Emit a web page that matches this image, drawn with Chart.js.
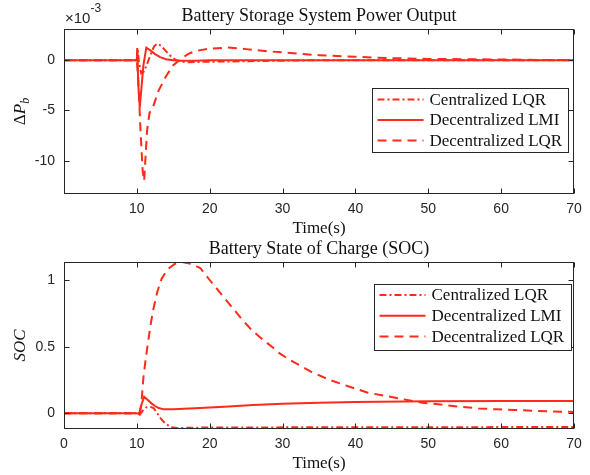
<!DOCTYPE html>
<html>
<head>
<meta charset="utf-8">
<script src="https://cdn.jsdelivr.net/npm/chart.js@4.4.1/dist/chart.umd.min.js"></script>
<style>
  html, body { margin: 0; padding: 0; background: #fff; }
  #wrap { position: relative; width: 590px; height: 475px; }
  canvas { position: absolute; left: 0; }
  #powerChart { top: 0; }
  #socChart { top: 240px; }
</style>
</head>
<body>
<div id="wrap">
  <canvas id="powerChart" width="590" height="240"></canvas>
  <canvas id="socChart" width="590" height="235"></canvas>
</div>
<script>
const seriesNames = ["Centralized LQR", "Decentralized LMI", "Decentralized LQR"];

const timeTicks = [0, 10, 20, 30, 40, 50, 60, 70];
const powerTicks = [-10, -5, 0];
const socTicks = [0, 0.5, 1];

// battery power output, in units of 1e-3
const tPowCentral = [0, 10, 10.1, 10.3, 10.6, 11.0, 11.5, 12.0, 12.4, 12.8, 13.3, 13.8, 14.3, 14.8, 15.4, 16.0, 17.0, 20.0, 25.0, 30.0, 35.0, 70];
const pPowCentral = [0, 0, 1.1, -0.3, -1.3, -1.1, -0.2, 0.8, 1.4, 1.65, 1.45, 1.05, 0.65, 0.3, 0.0, -0.15, -0.2, -0.15, -0.1, -0.05, 0, 0];

const tPowLmi = [0, 10, 10.05, 10.2, 10.4, 10.6, 10.9, 11.3, 11.8, 12.5, 13.2, 14.0, 15.0, 16.0, 18.0, 20.0, 70];
const pPowLmi = [0, 0, 1.2, -2.5, -4.7, -3.0, -0.5, 1.25, 1.0, 0.6, 0.3, 0.1, 0.0, -0.05, -0.05, 0, 0];

const tPowDec = [0, 10, 10.2, 10.5, 10.8, 11.0, 11.4, 11.75, 12.1, 13.0, 14, 15, 16, 17, 18, 20, 22.5, 25, 27.5, 30, 32.5, 35, 37.5, 40, 42.5, 45, 50, 55, 60, 65, 70];
const pPowDec = [0, 0, -2, -7, -11, -12, -7, -5.2, -4.9, -3, -1.6, -0.5, 0.1, 0.6, 0.9, 1.15, 1.25, 1.1, 0.92, 0.77, 0.62, 0.5, 0.42, 0.34, 0.26, 0.2, 0.13, 0.1, 0.07, 0.03, 0.01];

// battery state of charge
const tSocCentral = [0, 10, 10.4, 10.8, 11.3, 11.8, 12.3, 12.8, 13.3, 13.8, 14.3, 14.8, 15.5, 17, 20, 30, 40, 50, 60, 70];
const socCentral = [0, 0, -0.01, 0.02, 0.045, 0.05, 0.04, 0.0, -0.04, -0.07, -0.09, -0.105, -0.11, -0.108, -0.106, -0.105, -0.104, -0.104, -0.103, -0.103];

const tSocLmi = [0, 10, 10.3, 10.6, 11, 11.5, 12, 12.5, 13, 13.7, 15, 18, 22, 26, 30, 35, 40, 50, 60, 70];
const socLmi = [0, 0, -0.005, 0.06, 0.125, 0.1, 0.075, 0.055, 0.04, 0.03, 0.03, 0.038, 0.05, 0.062, 0.072, 0.08, 0.085, 0.09, 0.092, 0.092];

const tSocDec = [0, 10.4, 10.6, 10.9, 11.2, 11.5, 11.9, 12.3, 12.8, 13.4, 14.2, 15.2, 16.2, 17.5, 18.7, 20, 21.5, 23, 24.2, 25.5, 26.9, 28.3, 29.6, 31, 32.4, 34, 36.5, 39.2, 41.7, 44.2, 46.7, 49.2, 51.7, 54.2, 56.9, 59.4, 61.9, 64.4, 66.9, 70];
const socDec = [0, 0, 0.06, 0.27, 0.4, 0.52, 0.67, 0.79, 0.91, 1.01, 1.08, 1.12, 1.135, 1.12, 1.09, 1.0, 0.9, 0.8, 0.72, 0.64, 0.57, 0.51, 0.45, 0.4, 0.36, 0.31, 0.25, 0.2, 0.155, 0.13, 0.105, 0.08, 0.067, 0.05, 0.037, 0.03, 0.025, 0.02, 0.015, 0.01];

const RED = "#ff2a1a";
const AXIS = "#262626";
const SANS = "'Liberation Sans', Arial, sans-serif";
const SERIF = "'Liberation Serif', 'Times New Roman', serif";
const dashes = [[7, 3, 2, 3], [], [9, 6]];

const pts = (t, v) => t.map((x, i) => ({ x, y: v[i] }));

function makeDatasets(series) {
  return series.map(([t, v], i) => ({
    label: seriesNames[i],
    data: pts(t, v),
    borderColor: RED,
    borderWidth: 2,
    borderDash: dashes[i],
    pointRadius: 0,
    tension: 0,
    fill: false,
  }));
}

// MATLAB-looking frame: box, inward ticks, title, y label, exponent, legend
const matlabFrame = {
  id: "matlabFrame",
  afterDraw(chart, args, opts) {
    const { ctx, chartArea: a } = chart;
    const L = Math.round(a.left) + 0.5, R = Math.round(a.right) - 0.5;
    const T = Math.round(a.top) + 0.5, B = Math.round(a.bottom) - 0.5;
    ctx.save();
    ctx.strokeStyle = AXIS;
    ctx.lineWidth = 1;
    ctx.setLineDash([]);
    ctx.strokeRect(L, T, R - L, B - T);

    const tl = 5;
    ctx.beginPath();
    chart.scales.x.ticks.forEach((tk) => {
      const px = Math.round(chart.scales.x.getPixelForValue(tk.value)) + 0.5;
      ctx.moveTo(px, B); ctx.lineTo(px, B - tl);
      ctx.moveTo(px, T); ctx.lineTo(px, T + tl);
    });
    chart.scales.y.ticks.forEach((tk) => {
      const py = Math.round(chart.scales.y.getPixelForValue(tk.value)) + 0.5;
      ctx.moveTo(L, py); ctx.lineTo(L + tl, py);
      ctx.moveTo(R, py); ctx.lineTo(R - tl, py);
    });
    ctx.stroke();

    // title
    ctx.fillStyle = "#111";
    ctx.font = "18px " + SERIF;
    ctx.textAlign = "center";
    ctx.textBaseline = "alphabetic";
    ctx.fillText(opts.title, (a.left + a.right) / 2, a.top - 8.5);

    // exponent label
    if (opts.exponent) {
      ctx.fillStyle = AXIS;
      ctx.textAlign = "left";
      ctx.font = "15px " + SANS;
      ctx.fillText("\u00d710", a.left + 1, a.top - 6);
      const w = ctx.measureText("\u00d710").width;
      ctx.font = "12px " + SANS;
      ctx.fillText(opts.exponent, a.left + 1 + w, a.top - 17);
    }

    // y label, rotated, pieces may be subscripts
    ctx.save();
    ctx.translate(25, (a.top + a.bottom) / 2);
    ctx.rotate(-Math.PI / 2);
    ctx.fillStyle = "#111";
    ctx.textAlign = "left";
    const fontOf = (p) => (p.italic ? "italic " : "") + (p.sub ? "12px " : "17px ") + SERIF;
    let total = 0;
    opts.yLabel.forEach((p) => { ctx.font = fontOf(p); total += ctx.measureText(p.text).width; });
    let x = -total / 2;
    opts.yLabel.forEach((p) => {
      ctx.font = fontOf(p);
      ctx.fillText(p.text, x, p.sub ? 4 : 0);
      x += ctx.measureText(p.text).width;
    });
    ctx.restore();

    // legend box
    const lg = opts.legend;
    const bx = Math.round(a.right - lg.fromRight) + 0.5;
    const by = Math.round(a.top + lg.fromTop) + 0.5;
    ctx.fillStyle = "#fff";
    ctx.fillRect(bx, by, lg.width, lg.height);
    ctx.strokeStyle = AXIS;
    ctx.lineWidth = 1;
    ctx.strokeRect(bx, by, lg.width, lg.height);
    ctx.font = "17px " + SERIF;
    ctx.textAlign = "left";
    ctx.textBaseline = "middle";
    chart.data.datasets.forEach((ds, i) => {
      const y = by + lg.rowTop + i * lg.rowGap;
      ctx.strokeStyle = ds.borderColor;
      ctx.lineWidth = ds.borderWidth;
      ctx.setLineDash(ds.borderDash);
      ctx.beginPath();
      ctx.moveTo(bx + 5, y);
      ctx.lineTo(bx + 51, y);
      ctx.stroke();
      ctx.setLineDash([]);
      ctx.fillStyle = "#111";
      ctx.fillText(ds.label, bx + 57, y + 1);
    });
    ctx.restore();
  },
};

function makeOptions(cfg) {
  return {
    responsive: false,
    animation: false,
    events: [],
    layout: { padding: { left: 24, right: 16, top: cfg.top, bottom: 0 } },
    scales: {
      x: {
        type: "linear",
        min: 0,
        max: 70,
        afterFit: (s) => { s.height = cfg.xHeight; },
        afterBuildTicks: (s) => { s.ticks = timeTicks.map((v) => ({ value: v })); },
        grid: { display: false, drawTicks: false },
        border: { display: false },
        ticks: {
          padding: 7,
          color: AXIS,
          font: { family: SANS, size: 14 },
          maxRotation: 0,
          autoSkip: false,
          callback: (v) => (cfg.hideZero && v === 0 ? "" : String(v)),
        },
        title: {
          display: true,
          text: "Time(s)",
          color: "#111",
          font: { family: SERIF, size: 17 },
          padding: { top: 0, bottom: 1 },
        },
      },
      y: {
        type: "linear",
        min: cfg.yMin,
        max: cfg.yMax,
        afterFit: (s) => { s.width = 40; },
        afterBuildTicks: (s) => { s.ticks = cfg.yTicks.map((v) => ({ value: v })); },
        grid: { display: false, drawTicks: false },
        border: { display: false },
        ticks: {
          padding: 9,
          color: AXIS,
          font: { family: SANS, size: 14 },
          callback: (v) => String(v),
        },
      },
    },
    plugins: {
      legend: { display: false },
      tooltip: { enabled: false },
      matlabFrame: cfg.frame,
    },
  };
}

new Chart(document.getElementById("powerChart"), {
  type: "line",
  data: {
    datasets: makeDatasets([
      [tPowCentral, pPowCentral],
      [tPowLmi, pPowLmi],
      [tPowDec, pPowDec],
    ]),
  },
  options: makeOptions({
    top: 29,
    xHeight: 46,
    yMin: -13.3,
    yMax: 3.1,
    yTicks: powerTicks,
    hideZero: true,
    frame: {
      title: "Battery Storage System Power Output",
      exponent: "-3",
      yLabel: [{ text: "\u0394" }, { text: "P", italic: true }, { text: "b", italic: true, sub: true }],
      legend: { fromRight: 202, fromTop: 59, width: 196, height: 64, rowTop: 11, rowGap: 20.5 },
    },
  }),
  plugins: [matlabFrame],
});

new Chart(document.getElementById("socChart"), {
  type: "line",
  data: {
    datasets: makeDatasets([
      [tSocCentral, socCentral],
      [tSocLmi, socLmi],
      [tSocDec, socDec],
    ]),
  },
  options: makeOptions({
    top: 22,
    xHeight: 46.3,
    yMin: -0.115,
    yMax: 1.135,
    yTicks: socTicks,
    hideZero: false,
    frame: {
      title: "Battery State of Charge (SOC)",
      exponent: null,
      yLabel: [{ text: "SOC", italic: true }],
      legend: { fromRight: 200, fromTop: 22, width: 197, height: 66, rowTop: 10.5, rowGap: 20.8 },
    },
  }),
  plugins: [matlabFrame],
});
</script>
</body>
</html>
